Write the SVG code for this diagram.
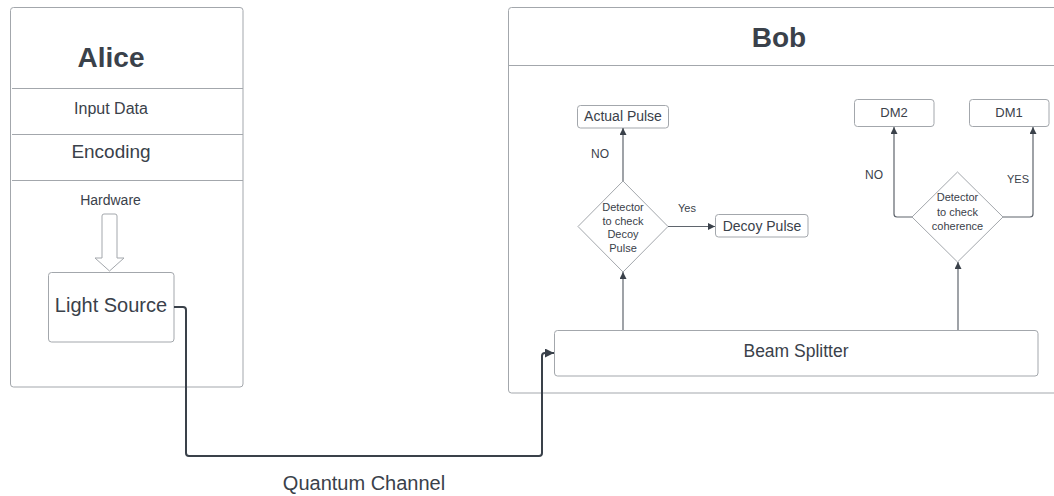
<svg xmlns="http://www.w3.org/2000/svg" width="1054" height="496" viewBox="0 0 1054 496">
  <style>
    text { font-family: "Liberation Sans", Arial, sans-serif; fill: #3a414a; text-anchor: middle; }
    .box { fill: #ffffff; stroke: #a3a7ac; stroke-width: 1; }
    .sep { stroke: #a3a7ac; stroke-width: 1; fill: none; }
    .link { fill: none; stroke: #5f656d; stroke-width: 1.2; }
    .channel { fill: none; stroke: #3a414a; stroke-width: 2; }
    .title { font-weight: bold; font-size: 28px; }
    .dia { font-size: 11px; }
  </style>
  <defs>
    <marker id="arrow" viewBox="0 0 10 10" refX="10" refY="5" markerWidth="8" markerHeight="7" markerUnits="userSpaceOnUse" orient="auto">
      <path d="M0,0 L10,5 L0,10 z" fill="#3a414a"/>
    </marker>
    <marker id="arrowBig" viewBox="0 0 10 10" refX="10" refY="5" markerWidth="12" markerHeight="9" markerUnits="userSpaceOnUse" orient="auto">
      <path d="M0,0 L10,5 L0,10 z" fill="#3a414a"/>
    </marker>
  </defs>
  <rect width="1054" height="496" fill="#ffffff"/>

  <!-- Alice container -->
  <g id="alice">
    <rect class="box" x="10.5" y="7.5" width="232.5" height="379.5" rx="3"/>
    <text class="title" x="111" y="67">Alice</text>
    <line class="sep" x1="12" y1="88.5" x2="243" y2="88.5"/>
    <text x="111" y="114" font-size="16">Input Data</text>
    <line class="sep" x1="12" y1="134.5" x2="243" y2="134.5"/>
    <text x="111" y="158" font-size="19">Encoding</text>
    <line class="sep" x1="12" y1="180.5" x2="243" y2="180.5"/>
    <text x="110.5" y="205" font-size="14">Hardware</text>
    <path class="box" d="M102,258 L102,216 Q102,214 104,214 L115,214 Q117,214 117,216 L117,258 L124,258 L109.5,271 L95,258 Z"/>
  </g>

  <g id="light-source">
    <rect class="box" x="48.5" y="272.5" width="125.5" height="69.5" rx="3"/>
    <text x="111" y="312" font-size="20">Light Source</text>
  </g>

  <!-- Bob container -->
  <g id="bob">
    <rect class="box" x="508.5" y="7.5" width="560" height="385.5" rx="3"/>
    <line class="sep" x1="508.5" y1="65.5" x2="1054" y2="65.5"/>
    <text class="title" x="779" y="47">Bob</text>
  </g>

  <g id="beam-splitter">
    <rect class="box" x="554.5" y="330.5" width="483.5" height="45.5" rx="3"/>
    <text x="796" y="357" font-size="17.5">Beam Splitter</text>
  </g>

  <g id="decoy-detector">
    <path class="box" d="M623,181 L668,226.5 L623,272 L578,226.5 Z"/>
    <text class="dia" x="623" y="211">Detector</text>
    <text class="dia" x="623" y="224.5">to check</text>
    <text class="dia" x="623" y="238">Decoy</text>
    <text class="dia" x="623" y="251.5">Pulse</text>
  </g>

  <g id="actual-pulse">
    <rect class="box" x="577.5" y="105.5" width="91" height="22.5" rx="3"/>
    <text x="623" y="120.5" font-size="14">Actual Pulse</text>
  </g>

  <g id="decoy-pulse">
    <rect class="box" x="715.5" y="214.5" width="92.5" height="22.5" rx="3"/>
    <text x="762" y="230.5" font-size="14">Decoy Pulse</text>
  </g>

  <g id="coherence-detector">
    <path class="box" d="M957.5,172 L1003,217 L957.5,262 L912,217 Z"/>
    <text class="dia" x="957.5" y="201">Detector</text>
    <text class="dia" x="957.5" y="215.5">to check</text>
    <text class="dia" x="957.5" y="230">coherence</text>
  </g>

  <g id="dm2">
    <rect class="box" x="854.5" y="99.5" width="79.5" height="27" rx="3"/>
    <text x="894" y="117" font-size="13">DM2</text>
  </g>

  <g id="dm1">
    <rect class="box" x="969.5" y="99.5" width="79.5" height="27" rx="3"/>
    <text x="1009" y="117" font-size="13">DM1</text>
  </g>

  <!-- Connectors -->
  <g id="connectors">
    <path class="channel" marker-end="url(#arrowBig)" d="M174,307 L183,307 Q186,307 186,310 L186,453 Q186,456 189,456 L539,456 Q542,456 542,453 L542,356 Q542,353 545,353 L554,353"/>
    <path class="link" marker-end="url(#arrow)" d="M623,330 L623,272"/>
    <path class="link" marker-end="url(#arrow)" d="M623,181 L623,128"/>
    <path class="link" marker-end="url(#arrow)" d="M668,226.5 L715,226.5"/>
    <path class="link" marker-end="url(#arrow)" d="M958,330 L958,262"/>
    <path class="link" marker-end="url(#arrow)" d="M912,217 L897,217 Q894,217 894,214 L894,127"/>
    <path class="link" marker-end="url(#arrow)" d="M1003,217 L1030,217 Q1033,217 1033,214 L1033,127"/>
  </g>

  <!-- Connector labels -->
  <g id="labels">
    <text x="600" y="158" font-size="12">NO</text>
    <text x="687" y="212" font-size="11">Yes</text>
    <text x="874" y="179" font-size="12">NO</text>
    <text x="1018" y="183" font-size="11">YES</text>
    <text x="364" y="490" font-size="20">Quantum Channel</text>
  </g>
</svg>
